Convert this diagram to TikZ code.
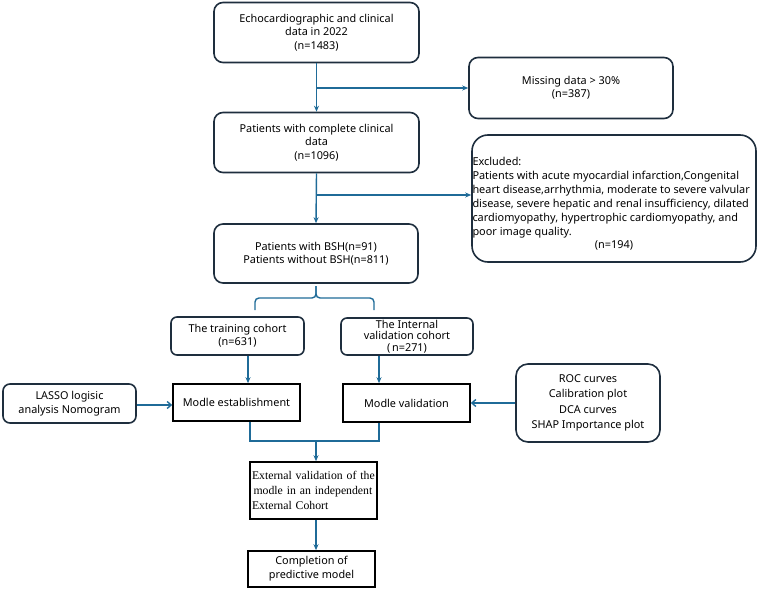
\documentclass[tikz,border=0pt]{standalone}
\usepackage{fontspec}
\setmainfont{Noto Sans}
\newfontfamily\serifx{Liberation Serif}
\usetikzlibrary{arrows.meta,calc}
\definecolor{conn}{HTML}{1F6B98}
\definecolor{bord}{HTML}{1E2E3E}
\begin{document}
\begin{tikzpicture}[x=1bp,y=-1bp,
  rbox/.style={draw=bord,line width=1.6bp,rounded corners=9bp,inner sep=1bp,align=center,font=\fontsize{10.9}{13.5}\selectfont},
  sbox/.style={draw=black,line width=1.6bp,inner sep=1bp,align=center,font=\fontsize{10.9}{13.5}\selectfont},
  cline/.style={draw=conn,line width=1.4bp},
  arr/.style={cline,-{Stealth[length=6bp,width=5bp]}},
  barb/.style={cline,-{Straight Barb[length=4bp,width=7bp]}}]
\useasboundingbox (0,0) rectangle (763,589);
\node[rbox,minimum width=205bp,minimum height=60bp] (b1) at (316.5,32.5) {Echocardiographic and clinical\\data in 2022\\(n=1483)};
\node[rbox,minimum width=204bp,minimum height=61bp] (miss) at (571,88) {Missing data \textgreater\ 30\%\\(n=387)};
\node[rbox,minimum width=205bp,minimum height=60bp] (b2) at (316.5,142.5) {Patients with complete clinical\\data\\(n=1096)};
\node[rbox,minimum width=284bp,minimum height=127bp,align=none,text width=283bp,inner sep=0.5bp,rounded corners=16bp,font=\fontsize{10.95}{14}\selectfont] (excl) at (614,198.5) {\raggedright\rule{0pt}{19bp}Excluded:\\Patients with acute myocardial infarction,Congenital\\heart disease,arrhythmia, moderate to severe valvular\\disease, severe hepatic and renal insufficiency, dilated\\cardiomyopathy, hypertrophic cardiomyopathy, and\\poor image quality.\par\centering (n=194)\par};
\node[rbox,minimum width=204bp,minimum height=59bp] (bsh) at (316,253.5) {Patients with BSH(n=91)\\Patients without BSH(n=811)};
\node[rbox,minimum width=133bp,minimum height=38bp,rounded corners=6bp] (train) at (237.5,336) {The training cohort\\(n=631)};
\node[rbox,minimum width=132bp,minimum height=37bp,rounded corners=6bp,font=\fontsize{10.9}{11.5}\selectfont] (intv) at (407,336.5) {The Internal\\validation cohort\\(\,n=271)};
\node[sbox,minimum width=127bp,minimum height=37bp] (mest) at (236.5,402.5) {Modle establishment};
\node[rbox,minimum width=133bp,minimum height=39bp,rounded corners=7bp] (lasso) at (69.5,403.5) {LASSO logisic\\analysis Nomogram};
\node[sbox,minimum width=127bp,minimum height=38bp] (mval) at (406.5,403) {Modle validation};
\node[rbox,minimum width=144bp,minimum height=78bp,rounded corners=12bp,font=\fontsize{10.9}{15.5}\selectfont] (roc) at (588,403) {ROC curves\\Calibration plot\\DCA curves\\SHAP Importance plot};
\node[sbox,minimum width=127bp,minimum height=57bp,align=left,text width=123bp,font=\serifx\fontsize{11.8}{15}\selectfont] (ext) at (313.5,490.5) {External validation of the\\\hspace*{1.5bp}modle in an independent\\External Cohort};
\node[sbox,minimum width=127bp,minimum height=36bp,font=\fontsize{10.9}{14}\selectfont] (comp) at (311.5,569) {Completion of\\predictive model};
% connectors
\coordinate (j1) at (316.5,88);
\coordinate (j2) at (316.5,195);
\draw[arr] (b1.south) -- (b2.north);
\draw[arr] (j1) -- (miss.west |- j1);
\draw[arr] (b2.south) -- (bsh.north);
\draw[arr] (j2) -- (excl.west |- j2);
% brace
\coordinate (bt) at (316,286);
\coordinate (bl) at (255,310);
\coordinate (br) at (374,310);
\draw[cline,rounded corners=4bp] (bl) -- (bl |- 0,298) -- (bt |- 0,298) -- (bt);
\draw[cline,rounded corners=4bp] (br) -- (br |- 0,298) -- (bt |- 0,298) -- (bt);
% cohorts to models
\coordinate (ta) at (248,0);
\coordinate (va) at (379,0);
\draw[arr] (ta |- train.south) -- (ta |- mest.north);
\draw[arr] (va |- intv.south) -- (va |- mval.north);
\draw[barb] (lasso.east |- 0,405) -- (mest.west |- 0,405);
\draw[barb] (roc.west) -- (mval.east);
% merge
\coordinate (ml) at (250,441);
\coordinate (mr) at (379,441);
\coordinate (mm) at (316,441);
\draw[cline] (ml |- mest.south) -- (ml) -- (mr) -- (mr |- mval.south);
\draw[arr] (mm) -- (mm |- ext.north);
\draw[arr] (mm |- ext.south) -- (mm |- comp.north);
\end{tikzpicture}
\end{document}
